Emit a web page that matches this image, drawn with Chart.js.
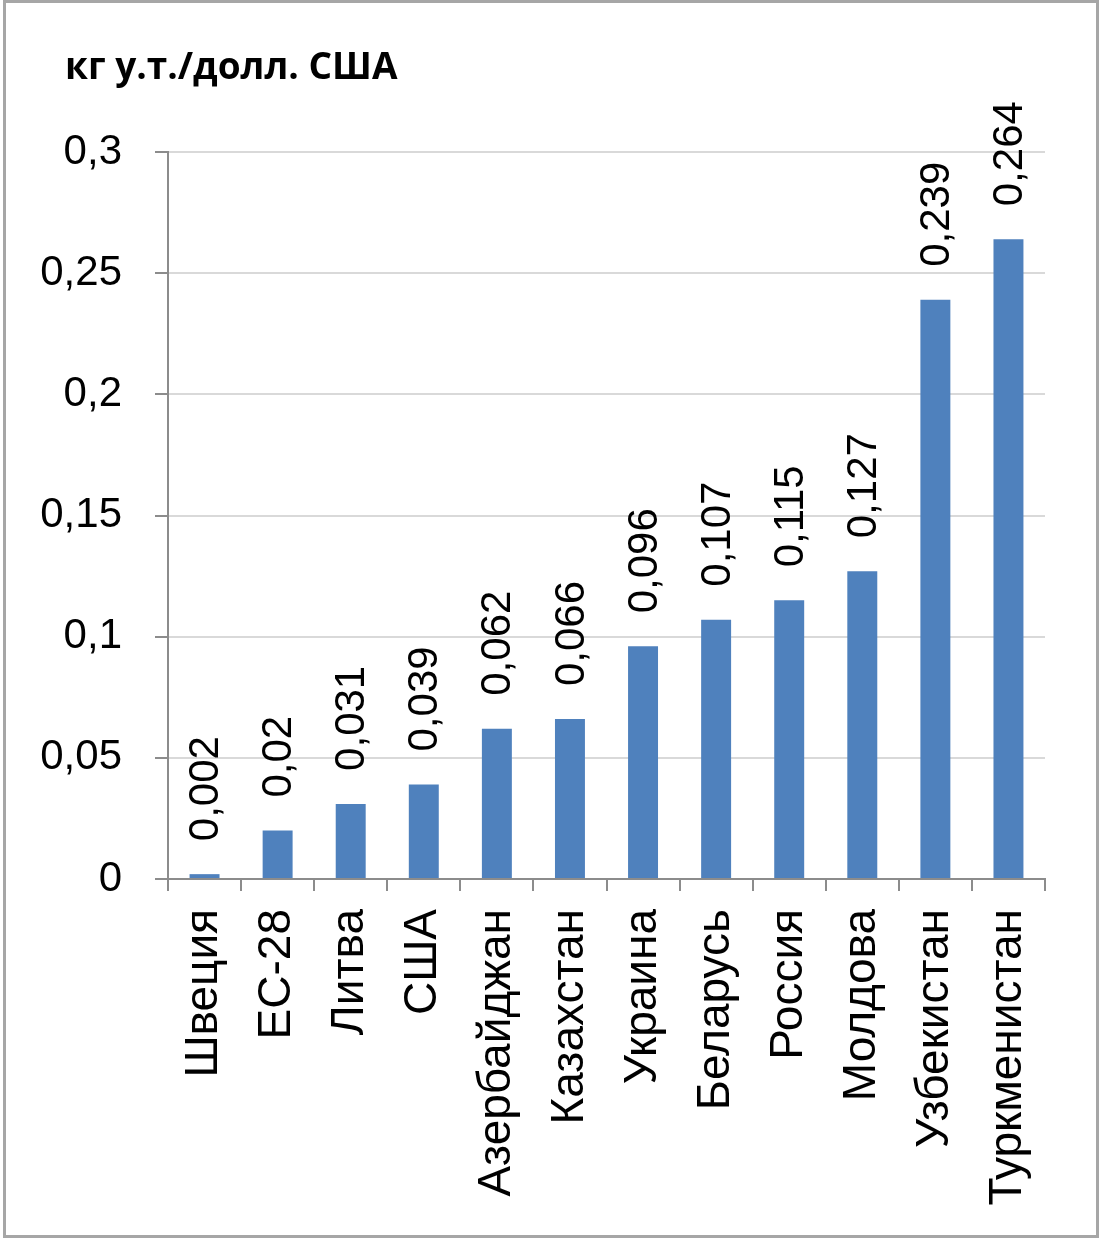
<!DOCTYPE html>
<html>
<head>
<meta charset="utf-8">
<script src="https://cdn.jsdelivr.net/npm/chart.js@4/dist/chart.umd.min.js"></script>
<style>
    body { margin: 0; background: #fff; }
    #wrap { position: relative; width: 1104px; height: 1240px; }
    #frame {
        position: absolute; left: 3px; top: 0; width: 1096px; height: 1238px;
        box-sizing: border-box; border: 3px solid #a6a6a6; pointer-events: none;
    }
    canvas { position: absolute; left: 0; top: 0; }
</style>
</head>
<body>
<div id="wrap">
    <canvas id="chart" width="1104" height="1240"></canvas>
    <div id="frame"></div>
</div>
<script>
const countries = ['Швеция', 'ЕС-28', 'Литва', 'США', 'Азербайджан', 'Казахстан',
    'Украина', 'Беларусь', 'Россия', 'Молдова', 'Узбекистан', 'Туркменистан'];
const intensity = [0.002, 0.02, 0.031, 0.039, 0.062, 0.066, 0.096, 0.107, 0.115, 0.127, 0.239, 0.264];
const yTicks = [0, 0.05, 0.1, 0.15, 0.2, 0.25, 0.3];
const unitTitle = 'кг у.т./долл. США';

function withComma(v) {
    return String(Math.round(v * 1000) / 1000).replace('.', ',');
}

// unit caption in the top-left corner, left of the value axis
const unitCaption = {
    id: 'unitCaption',
    afterDraw(chart) {
        const ctx = chart.ctx;
        ctx.save();
        ctx.font = 'bold 37px "Open Sans", sans-serif';
        ctx.fillStyle = '#000';
        ctx.textAlign = 'left';
        ctx.textBaseline = 'middle';
        ctx.fillText(unitTitle, 65, 68);
        ctx.restore();
    }
};

// value labels written upright above each bar
const barLabels = {
    id: 'barLabels',
    afterDatasetsDraw(chart) {
        const ctx = chart.ctx;
        const meta = chart.getDatasetMeta(0);
        ctx.save();
        ctx.font = '42px "Liberation Sans", Arial, sans-serif';
        ctx.fillStyle = '#000';
        ctx.textAlign = 'left';
        ctx.textBaseline = 'middle';
        meta.data.forEach((bar, i) => {
            ctx.save();
            ctx.translate(bar.x + 2, bar.y - 33);
            ctx.rotate(-Math.PI / 2);
            ctx.fillText(withComma(intensity[i]), 0, 0);
            ctx.restore();
        });
        ctx.restore();
    }
};

new Chart(document.getElementById('chart'), {
    type: 'bar',
    data: {
        labels: countries,
        datasets: [{
            data: intensity,
            backgroundColor: '#4f81bd',
            barPercentage: 0.41,
            categoryPercentage: 1
        }]
    },
    options: {
        responsive: false,
        animation: false,
        layout: { padding: { left: 0, right: 59, top: 152, bottom: 0 } },
        plugins: {
            legend: { display: false },
            tooltip: { enabled: false },
            title: { display: false }
        },
        scales: {
            x: {
                afterFit(s) { s.height = 361; },
                grid: { drawOnChartArea: false, color: '#8c8c8c', lineWidth: 2, tickLength: 12, offset: true },
                border: { color: '#8c8c8c', width: 2 },
                ticks: {
                    color: '#000',
                    minRotation: 90,
                    maxRotation: 90,
                    padding: 18,
                    autoSkip: false,
                    font: { family: '"Liberation Sans", Arial, sans-serif', size: 46 }
                }
            },
            y: {
                min: 0,
                max: 0.3,
                afterFit(s) { s.width = 168; },
                afterBuildTicks(s) { s.ticks = yTicks.map(v => ({ value: v })); },
                grid: { color: '#d9d9d9', lineWidth: 2, tickColor: '#8c8c8c', tickLength: 13 },
                border: { color: '#8c8c8c', width: 2 },
                ticks: {
                    color: '#000',
                    padding: 33,
                    font: { family: '"Liberation Sans", Arial, sans-serif', size: 42 },
                    callback: v => withComma(v)
                }
            }
        }
    },
    plugins: [barLabels, unitCaption]
});
</script>
</body>
</html>
